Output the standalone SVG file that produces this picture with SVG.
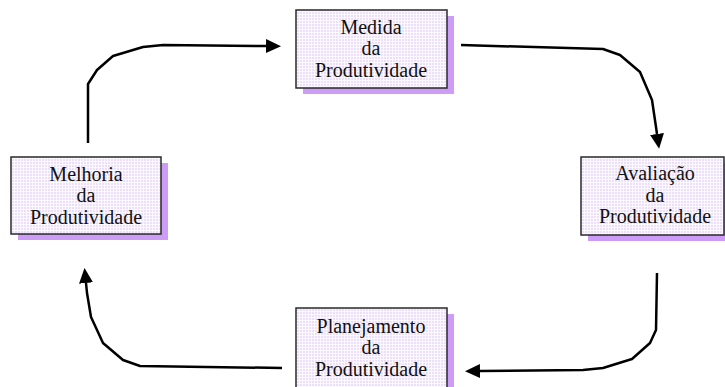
<svg xmlns="http://www.w3.org/2000/svg" width="725" height="387" viewBox="0 0 725 387">
<defs>
<pattern id="grid" width="3" height="3" patternUnits="userSpaceOnUse">
<rect width="3" height="3" fill="#fbf8fe"/>
<rect width="2" height="2" fill="#ebdff9"/>
</pattern>
<marker id="arr" markerUnits="userSpaceOnUse" markerWidth="16" markerHeight="16" refX="0" refY="7" orient="auto" viewBox="0 0 16 14">
<path d="M0,0 L15,7 L0,14 z" fill="#000"/>
</marker>
<style>
.shadow{fill:#cc9cf6}
.box{fill:url(#grid);stroke:#2a2a2a;stroke-width:1.5}
.lbl{font-family:"Liberation Serif","Times New Roman",serif;font-size:20px;fill:#111;text-anchor:middle}
.conn{fill:none;stroke:#000;stroke-width:2.5;stroke-linejoin:round;marker-end:url(#arr)}
</style>
</defs>
<g id="medida">
<rect class="shadow" x="303" y="16" width="151" height="78"/>
<rect class="box" x="296" y="10" width="151" height="78"/>
<text class="lbl" x="371" y="34">Medida</text>
<text class="lbl" x="371" y="55">da</text>
<text class="lbl" x="371" y="77">Produtividade</text>
</g>
<g id="melhoria">
<rect class="shadow" x="18" y="163" width="150" height="77"/>
<rect class="box" x="11" y="157" width="150" height="77"/>
<text class="lbl" x="86" y="181">Melhoria</text>
<text class="lbl" x="86" y="202">da</text>
<text class="lbl" x="86" y="224">Produtividade</text>
</g>
<g id="avaliacao">
<rect class="shadow" x="588" y="163" width="143" height="78"/>
<rect class="box" x="581" y="157" width="143" height="78"/>
<text class="lbl" x="655" y="180">Avaliação</text>
<text class="lbl" x="655" y="202">da</text>
<text class="lbl" x="655" y="223">Produtividade</text>
</g>
<g id="planejamento">
<rect class="shadow" x="303" y="314" width="151" height="85"/>
<rect class="box" x="296" y="308" width="151" height="85"/>
<text class="lbl" x="371" y="333">Planejamento</text>
<text class="lbl" x="371" y="354">da</text>
<text class="lbl" x="371" y="376">Produtividade</text>
</g>
<g id="connectors">
<path class="conn" d="M88,143 L88,84 L97,70 L113,56 L143,47 L163,45 L266,46"/>
<path class="conn" d="M461,45 L603,49 L620,55 L640,72 L652,100 L656,127 L657,134"/>
<path class="conn" d="M657,273 L656,330 L650,343 L632,359 L603,368 L583,370 L480,371"/>
<path class="conn" d="M282,368 L140,366 L123,360 L103,343 L91,317 L87,293 L86,283"/>
</g>
</svg>
